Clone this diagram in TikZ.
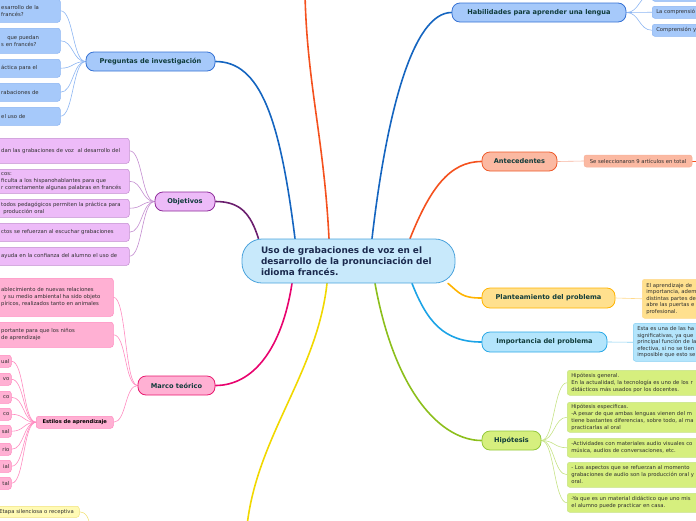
\documentclass[tikz,border=0pt]{standalone}
\usepackage{fontspec}
\setmainfont{DejaVu Sans}
\usetikzlibrary{positioning, calc, backgrounds}

\definecolor{CoreFill}{HTML}{C8E9FB}
\definecolor{CoreDraw}{HTML}{4BA3DC}
\definecolor{CoreText}{HTML}{1B2A4E}
\definecolor{TopicText}{HTML}{0F3B3A}
\definecolor{LeafText}{HTML}{2E2E2E}
\definecolor{BlueLine}{HTML}{1565C0}
\definecolor{BlueFill}{HTML}{A6C9FA}
\definecolor{BlueDraw}{HTML}{3672D4}
\definecolor{BlueTwig}{HTML}{8CB5F2}
\definecolor{PurpLine}{HTML}{6B1F6E}
\definecolor{PurpFill}{HTML}{EDBBF8}
\definecolor{PurpDraw}{HTML}{8E2C9A}
\definecolor{PurpTwig}{HTML}{C38CD0}
\definecolor{PinkLine}{HTML}{E8036E}
\definecolor{PinkFill}{HTML}{FFB0D3}
\definecolor{PinkDraw}{HTML}{E8196F}
\definecolor{PinkTwig}{HTML}{FF8BC0}
\definecolor{OranLine}{HTML}{F4511E}
\definecolor{OranFill}{HTML}{FBB9A2}
\definecolor{OranDraw}{HTML}{EE5A2A}
\definecolor{OranTwig}{HTML}{F7B29C}
\definecolor{GoldLine}{HTML}{FFB300}
\definecolor{GoldFill}{HTML}{FFE08E}
\definecolor{GoldTwig}{HTML}{FFD98A}
\definecolor{SkyLine}{HTML}{1CA3E6}
\definecolor{SkyFill}{HTML}{B4E5FC}
\definecolor{SkyDraw}{HTML}{2AA8E6}
\definecolor{SkyTwig}{HTML}{86CFF2}
\definecolor{LimeLine}{HTML}{8CBF1C}
\definecolor{LimeFill}{HTML}{D6EF7E}
\definecolor{LimeDraw}{HTML}{93C83A}
\definecolor{LimeTwig}{HTML}{C6E385}
\definecolor{YellLine}{HTML}{F1D800}
\definecolor{YellFill}{HTML}{FFFAB4}
\definecolor{YellDraw}{HTML}{F2E27C}

\begin{document}
\begin{tikzpicture}[
  x=1pt, y=-1pt,
  core/.style={
    rectangle, rounded corners=20pt,
    draw=CoreDraw, fill=CoreFill, line width=0.8pt,
    minimum width=213pt, minimum height=44pt,
    text width=175pt, align=left, text=CoreText,
    font=\bfseries\fontsize{8.9}{11}\selectfont
  },
  branch/.style={
    rectangle, rounded corners=8pt,
    line width=0.8pt, minimum height=19pt,
    font=\bfseries\fontsize{6.6}{8}\selectfont, text=TopicText
  },
  leaf/.style={
    rectangle, rounded corners=2.5pt,
    line width=0.5pt, anchor=north west,
    inner xsep=4pt, inner ysep=1pt,
    align=left, text=LeafText,
    font=\fontsize{5.3}{7}\selectfont
  },
  link/.style={line width=1.6pt, line cap=round},
  twig/.style={line width=0.6pt},
]
\useasboundingbox (0,0) rectangle (696,520);
\clip (0,0) rectangle (696,520);

% Central topic
\node[core] (core) at (348.5,261) {Uso de grabaciones de voz en el\\desarrollo de la pronunciación del\\idioma francés.};

% Main topics
\node[branch, fill=BlueFill, draw=BlueDraw, minimum width=129pt] (preg) at (150.5,61.5) {Preguntas de investigación};
\node[branch, fill=PurpFill, draw=PurpDraw, minimum width=60pt] (obj) at (185,201.5) {Objetivos};
\node[branch, fill=PinkFill, draw=PinkDraw, minimum width=77pt] (marco) at (176.5,385.5) {Marco teórico};
\node[branch, fill=BlueFill, draw=BlueDraw, minimum width=174pt] (hab) at (539,12.5) {Habilidades para aprender una lengua};
\node[branch, fill=OranFill, draw=OranDraw, minimum width=75pt] (ant) at (519.5,161.5) {Antecedentes};
\node[branch, fill=GoldFill, draw=GoldLine, minimum width=133pt, minimum height=20pt] (plant) at (548.5,298) {Planteamiento del problema};
\node[branch, fill=SkyFill, draw=SkyDraw, minimum width=125pt, minimum height=20pt] (imp) at (544.5,342) {Importancia del problema};
\node[branch, fill=LimeFill, draw=LimeDraw, minimum width=59pt] (hip) at (511.5,440.5) {Hipótesis};

% Preguntas de investigación
\node[leaf, fill=BlueFill, draw=BlueTwig, text width=55pt, minimum height=23pt] (p1) at (-3,-1) {esarrollo de la\\francés?};
\node[leaf, fill=BlueFill, draw=BlueTwig, text width=55pt, minimum height=25pt] (p2) at (-3,28) {\hspace*{6pt}que puedan\\s en francés?};
\node[leaf, fill=BlueFill, draw=BlueTwig, text width=55pt, minimum height=18pt] (p3) at (-3,59) {áctica para el};
\node[leaf, fill=BlueFill, draw=BlueTwig, text width=55pt, minimum height=18pt] (p4) at (-3,83) {rabaciones de};
\node[leaf, fill=BlueFill, draw=BlueTwig, text width=55pt, minimum height=18pt] (p5) at (-3,107) {el uso de};

% Objetivos
\node[leaf, fill=PurpFill, draw=PurpTwig, text width=124pt, minimum height=25pt] (o1) at (-3,138) {dan las grabaciones de voz\ \ al desarrollo del};
\node[leaf, fill=PurpFill, draw=PurpTwig, text width=124pt, minimum height=24pt] (o2) at (-3,169) {cos:\\ficulta a los hispanohablantes para que\\r correctamente algunas palabras en francés};
\node[leaf, fill=PurpFill, draw=PurpTwig, text width=124pt, minimum height=18pt] (o3) at (-3,199) {todos pedagógicos permiten la práctica para\\\hspace*{2pt}producción oral};
\node[leaf, fill=PurpFill, draw=PurpTwig, text width=124pt, minimum height=18pt] (o4) at (-3,223) {ctos se refuerzan al escuchar grabaciones};
\node[leaf, fill=PurpFill, draw=PurpTwig, text width=124pt, minimum height=18pt] (o5) at (-3,247) {ayuda en la confianza del alumno el uso de};

% Marco teórico
\node[leaf, fill=PinkFill, draw=PinkTwig, text width=108pt, minimum height=38pt] (m1) at (-3,278) {ablecimiento de nuevas relaciones\\\hspace*{2pt}y su medio ambiental ha sido objeto\\píricos, realizados tanto en animales};
\node[leaf, fill=PinkFill, draw=PinkTwig, text width=108pt, minimum height=25pt] (m2) at (-3,322) {portante para que los niños\\de aprendizaje};
\node[leaf, fill=PinkFill, draw=PinkTwig, text width=69pt, minimum height=12pt, align=center, font=\bfseries\fontsize{5.2}{7}\selectfont, text=black] (estilos) at (36,416) {Estilos de aprendizaje};
\node[leaf, fill=PinkFill, draw=PinkTwig, text width=11pt, minimum height=12pt, inner xsep=2pt, align=right] (e1) at (-4,355) {ual};
\node[leaf, fill=PinkFill, draw=PinkTwig, text width=11pt, minimum height=12pt, inner xsep=2pt, align=right] (e2) at (-4,373) {vo};
\node[leaf, fill=PinkFill, draw=PinkTwig, text width=11pt, minimum height=12pt, inner xsep=2pt, align=right] (e3) at (-4,391) {co};
\node[leaf, fill=PinkFill, draw=PinkTwig, text width=11pt, minimum height=12pt, inner xsep=2pt, align=right] (e4) at (-4,408) {co};
\node[leaf, fill=PinkFill, draw=PinkTwig, text width=11pt, minimum height=12pt, inner xsep=2pt, align=right] (e5) at (-4,425) {sal};
\node[leaf, fill=PinkFill, draw=PinkTwig, text width=11pt, minimum height=12pt, inner xsep=2pt, align=right] (e6) at (-4,443) {rio};
\node[leaf, fill=PinkFill, draw=PinkTwig, text width=11pt, minimum height=12pt, inner xsep=2pt, align=right] (e7) at (-4,460) {ial};
\node[leaf, fill=PinkFill, draw=PinkTwig, text width=11pt, minimum height=12pt, inner xsep=2pt, align=right] (e8) at (-4,477) {tal};

% Bottom branch (cut off)
\node[leaf, fill=YellFill, draw=YellDraw, text width=77pt, minimum height=11pt, inner xsep=3pt] (etapa) at (-4,506) {Etapa silenciosa o receptiva};

% Habilidades
\node[leaf, fill=BlueFill, draw=BlueTwig, text width=72pt, minimum height=13pt] (h1) at (652,-12) {};
\node[leaf, fill=BlueFill, draw=BlueTwig, text width=72pt, minimum height=12pt] (h2) at (652,6) {La comprensió};
\node[leaf, fill=BlueFill, draw=BlueTwig, text width=72pt, minimum height=12pt] (h3) at (652,24) {Comprensión y};

% Antecedentes
\node[leaf, fill=OranFill, draw=OranTwig, anchor=center, align=center, minimum width=108pt, minimum height=12pt, inner xsep=3pt] (a1) at (638,161) {Se seleccionaron 9 artículos en total};

% Planteamiento / Importancia
\node[leaf, fill=GoldFill, draw=GoldTwig, text width=92pt, minimum height=39pt, font=\fontsize{5.3}{6.6}\selectfont] (pl1) at (642,279) {El aprendizaje de\\importancia, adem\\distintas partes de\\abre las puertas e\\profesional.};
\node[leaf, fill=SkyFill, draw=SkyTwig, text width=92pt, minimum height=38pt, font=\fontsize{5.3}{6.6}\selectfont] (im1) at (633,323) {Esta es una de las ha\\significativas, ya que\\principal función de la\\efectiva, si no se tien\\imposible que esto se};

% Hipótesis
\node[leaf, fill=LimeFill, draw=LimeTwig, text width=152pt, minimum height=25pt] (hy1) at (567,370) {Hipótesis general.\\En la actualidad, la tecnología es uno de los r\\didácticos más usados por los docentes.};
\node[leaf, fill=LimeFill, draw=LimeTwig, text width=152pt, minimum height=30pt] (hy2) at (567,402) {Hipótesis especificas.\\-A pesar de que ambas lenguas vienen del m\\tiene bastantes diferencias, sobre todo, al ma\\practicarlas al oral};
\node[leaf, fill=LimeFill, draw=LimeTwig, text width=152pt, minimum height=19pt] (hy3) at (567,438) {-Actividades con materiales audio visuales co\\música, audios de conversaciones, etc.};
\node[leaf, fill=LimeFill, draw=LimeTwig, text width=152pt, minimum height=25pt] (hy4) at (567,462) {- Los aspectos que se refuerzan al momento\\grabaciones de audio son la producción oral y\\oral.};
\node[leaf, fill=LimeFill, draw=LimeTwig, text width=152pt, minimum height=19pt] (hy5) at (567,493) {-Ya que es un material didáctico que uno mis\\el alumno puede practicar en casa.};

% Ends of branches outside the view
\coordinate (topend) at (305,-6);
\coordinate (botend) at (247,526);
\coordinate (etapaup) at (90,530);
\coordinate (antnext) at (712,161);

\begin{scope}[on background layer]
% Main links
\draw[link, PurpLine] ([xshift=-90pt]core.north) .. controls +(-8,-25) and +(25,0) .. (obj.east);
\draw[link, BlueLine] ([xshift=-53.5pt]core.north) .. controls +(-15,-120) and +(45,0) .. (preg.east);
\draw[link, OranLine] ([xshift=-19.5pt]core.north) .. controls +(-5,-100) and +(2,90) .. (topend);
\draw[link, BlueLine] ([xshift=23.5pt]core.north) .. controls +(15,-130) and +(-38,0) .. (hab.west);
\draw[link, OranLine] ([xshift=61.5pt]core.north) .. controls +(20,-50) and +(-32,0) .. (ant.west);
\draw[link, PinkLine] ([xshift=-56.5pt]core.south) .. controls +(-10,65) and +(38,0) .. (marco.east);
\draw[link, YellLine] ([xshift=-21.5pt]core.south) .. controls +(-10,90) and +(10,-90) .. (botend);
\draw[link, LimeLine] ([xshift=26.5pt]core.south) .. controls +(20,110) and +(-40,0) .. (hip.west);
\draw[link, SkyLine] ([xshift=63.5pt]core.south) .. controls +(15,38) and +(-38,0) .. (imp.west);
\draw[link, GoldLine] ([xshift=99.5pt]core.south) .. controls +(12,10) and +(-20,0) .. (plant.west);

% Twigs
\foreach \leafname in {p1,p2,p3,p4,p5}
  \draw[twig, BlueTwig] (preg.west) .. controls +(-13,0) and +(13,0) .. (\leafname.east);
\foreach \leafname in {o1,o2,o3,o4,o5}
  \draw[twig, PurpTwig] (obj.west) .. controls +(-13,0) and +(13,0) .. (\leafname.east);
\foreach \leafname in {m1,m2,estilos}
  \draw[twig, PinkTwig] (marco.west) .. controls +(-13,0) and +(13,0) .. (\leafname.east);
\foreach \leafname in {e1,e2,e3,e4,e5,e6,e7,e8}
  \draw[twig, PinkTwig] (estilos.west) .. controls +(-13,0) and +(13,0) .. (\leafname.east);
\foreach \leafname in {h1,h2,h3}
  \draw[twig, BlueTwig] (hab.east) .. controls +(13,0) and +(-13,0) .. (\leafname.west);
\foreach \leafname in {hy1,hy2,hy3,hy4,hy5}
  \draw[twig, LimeTwig] (hip.east) .. controls +(13,0) and +(-13,0) .. (\leafname.west);
\draw[twig, OranTwig] (ant.east) -- (a1.west);
\draw[twig, OranLine, line width=0.9pt] (a1.east) -- (antnext);
\draw[twig, GoldTwig] (plant.east) -- (pl1.west);
\draw[twig, SkyTwig] (imp.east) -- (im1.west);
\draw[twig, YellDraw] (etapa.east) .. controls +(6,0) and +(0,-12) .. (etapaup);
\end{scope}

\end{tikzpicture}
\end{document}
